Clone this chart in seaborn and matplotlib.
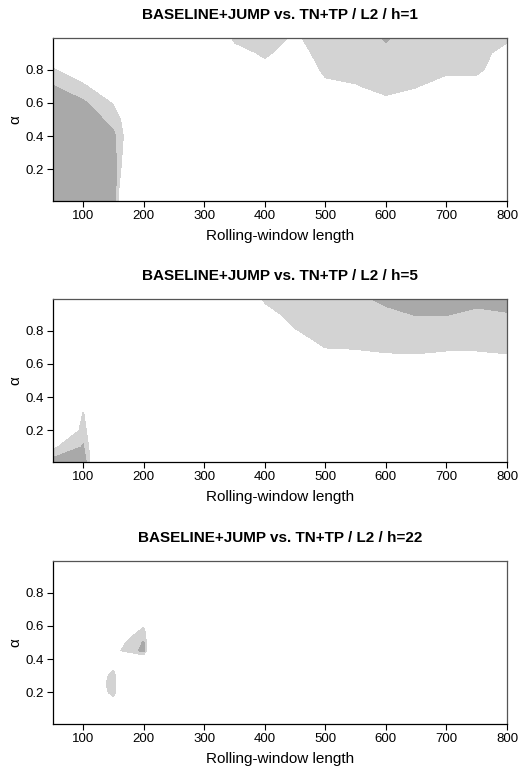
import numpy as np
import matplotlib
matplotlib.use("Agg")
import matplotlib.pyplot as plt
import seaborn as sns

sns.set_style("white")
plt.rcParams['font.family'] = ['Liberation Sans', 'DejaVu Sans']
plt.rcParams['text.color'] = 'black'
plt.rcParams['axes.labelcolor'] = 'black'
plt.rcParams['xtick.color'] = 'black'
plt.rcParams['ytick.color'] = 'black'

# grid of rolling-window lengths and alpha values
WINDOWS = [50, 100, 150, 200, 250, 300, 350, 400, 450, 500, 550, 600, 650, 700, 750, 800]
ALPHA = [0.01, 0.1, 0.2, 0.3, 0.4, 0.5, 0.6, 0.7, 0.8, 0.9, 0.99]
ALPHA_H22 = [0.01, 0.1, 0.15, 0.2, 0.25, 0.3, 0.35, 0.4, 0.45, 0.5, 0.55, 0.6, 0.7, 0.8, 0.9, 0.99]

# significance statistic per (alpha row, window column); >=1 light, >=2 dark
STAT_H1 = [
    [3.0, 3.0, 3.0, -9.5, 0, 0, 0, 0, 0, 0, 0, 0, 0, 0, 0, 0],
    [3.0, 3.0, 2.8, -7.0, 0, 0, 0, 0, 0, 0, 0, 0, 0, 0, 0, 0],
    [3.0, 3.0, 2.6, -4.0, 0, 0, 0, 0, 0, 0, 0, 0, 0, 0, 0, 0],
    [3.0, 3.0, 2.4, -2.5, 0, 0, 0, 0, 0, 0, 0, 0, 0, 0, 0, 0],
    [3.0, 3.0, 2.25, -1.6, 0, 0, 0, 0, 0, 0, 0, 0, 0, 0, 0, 0],
    [3.0, 2.8, 1.6, -1.0, 0, 0, 0, 0, 0, 0, 0, 0, 0, 0, 0, 0],
    [2.5, 2.2, 0.9, -1.0, 0, 0, 0, 0, 0, 0, 0.4, 0.6, 0.5, 0.2, 0.2, 0],
    [2.05, 1.1, 0.4, -1.0, 0, 0, 0, 0, 0, 0.5, 0.9, 1.5, 1.05, 0.6, 0.6, 0.2],
    [1.05, 0.5, 0.2, -1.0, 0, 0, 0, 0.5, -1.0, 1.5, 1.6, 1.7, 1.6, 1.2, 1.2, 0.4],
    [0.3, 0.2, 0.1, -1.0, 0, 0, 0.4, 1.25, 0.24, 1.7, 1.6, 1.8, 1.6, 1.5, 1.4, 0.6],
    [0.0, 0.0, 0.0, -1.0, 0, -1.7, 1.3, 1.6, 0.79, 1.75, 1.4, 2.1, 1.4, 1.5, 1.5, 1.2],
]

STAT_H5 = [
    [2.5, 2.8, -5.4, 0, 0, 0, 0, 0, 0, 0, 0, 0, 0, 0, 0, 0],
    [0.8, 2.1, -4.0, 0, 0, 0, 0, 0, 0, 0, 0, 0, 0, 0, 0, 0],
    [-2.7, 1.6, -4.4, 0, 0, 0, 0, 0, 0, 0, 0, 0, 0, 0, 0, 0],
    [-2.7, 1.1, -4.0, 0, 0, 0, 0, 0, 0, 0, 0, 0, 0, 0, 0, 0],
    [0, 0, -2.0, 0, 0, 0, 0, 0, 0, 0, 0, 0, 0, 0, 0, 0],
    [0, 0, 0, 0, 0, 0, 0, 0, 0, 0, 0, 0, 0, 0, 0, 0],
    [0, 0, 0, 0, 0, 0, 0, 0, 0, 0.3, 0.3, 0.4, 0.4, 0.3, 0.3, 0.4],
    [0, 0, 0, 0, 0, 0, 0, 0, 0.3, 1.03, 1.1, 1.3, 1.4, 1.2, 1.2, 1.4],
    [0, 0, 0, 0, 0, 0, 0, 0.2, 0.95, 1.4, 1.5, 1.6, 1.6, 1.55, 1.5, 1.6],
    [0, 0, 0, 0, 0, 0, 0, 0.5, 1.5, 1.6, 1.6, 1.8, 2.05, 2.05, 1.8, 1.95],
    [0, 0, 0, 0, 0, 0, -0.8, 1.2, 1.6, 1.7, 1.78, 2.2, 2.4, 2.4, 2.3, 2.4],
]

STAT_H22 = [
    [0, 0, 0, 0, 0, 0, 0, 0, 0, 0, 0, 0, 0, 0, 0, 0],          # 0.01
    [0, 0, 0, 0, 0, 0, 0, 0, 0, 0, 0, 0, 0, 0, 0, 0],          # 0.10
    [0, 0, 0.7, 0, 0, 0, 0, 0, 0, 0, 0, 0, 0, 0, 0, 0],        # 0.15
    [0, -0.37, 1.3, -3.7, 0, 0, 0, 0, 0, 0, 0, 0, 0, 0, 0, 0],  # 0.20
    [0, -0.27, 1.4, -3.6, 0, 0, 0, 0, 0, 0, 0, 0, 0, 0, 0, 0],  # 0.25
    [0, 0.09, 1.2, -1.66, 0, 0, 0, 0, 0, 0, 0, 0, 0, 0, 0, 0],  # 0.30
    [0, 0, 0.9, -1.0, 0, 0, 0, 0, 0, 0, 0, 0, 0, 0, 0, 0],     # 0.35
    [0, 0, 0.3, -0.3, 0, 0, 0, 0, 0, 0, 0, 0, 0, 0, 0, 0],     # 0.40
    [0, 0, 0.59, 2.3, -14.0, 0, 0, 0, 0, 0, 0, 0, 0, 0, 0, 0], # 0.45
    [0, 0, 0.27, 2.1, -11.6, 0, 0, 0, 0, 0, 0, 0, 0, 0, 0, 0], # 0.50
    [0, 0, -0.17, 1.5, -6.8, 0, 0, 0, 0, 0, 0, 0, 0, 0, 0, 0], # 0.55
    [0, 0, 0, 0.9, 0, 0, 0, 0, 0, 0, 0, 0, 0, 0, 0, 0],        # 0.60
    [0, 0, 0, 0, 0, 0, 0, 0, 0, 0, 0, 0, 0, 0, 0, 0],          # 0.70
    [0, 0, 0, 0, 0, 0, 0, 0, 0, 0, 0, 0, 0, 0, 0, 0],          # 0.80
    [0, 0, 0, 0, 0, 0, 0, 0, 0, 0, 0, 0, 0, 0, 0, 0],          # 0.90
    [0, 0, 0, 0, 0, 0, 0, 0, 0, 0, 0, 0, 0, 0, 0, 0],          # 0.99
]

TITLES = ["BASELINE+JUMP vs. TN+TP / L2 / h=1",
          "BASELINE+JUMP vs. TN+TP / L2 / h=5",
          "BASELINE+JUMP vs. TN+TP / L2 / h=22"]
PANELS = [(ALPHA, STAT_H1), (ALPHA, STAT_H5), (ALPHA_H22, STAT_H22)]
X_TICKS = [100, 200, 300, 400, 500, 600, 700, 800]
Y_TICKS = [0.2, 0.4, 0.6, 0.8]
LEVELS = [1.0, 2.0, 1000.0]
FILL_COLORS = ["#d3d3d3", "#a9a9a9"]

W, H = 520, 771
fig = plt.figure(figsize=(W / 100, H / 100), dpi=100)
fig.patch.set_facecolor("white")

ax_left, ax_right = 53, 507
tops = [38, 299, 561]
ax_h = 163

for i, ((alphas, stat), title) in enumerate(zip(PANELS, TITLES)):
    top = tops[i]
    ax = fig.add_axes([ax_left / W, 1 - (top + ax_h) / H, (ax_right - ax_left) / W, ax_h / H])
    ax.set_facecolor("white")
    ax.contourf(WINDOWS, alphas, np.array(stat, dtype=float), levels=LEVELS,
                colors=FILL_COLORS, antialiased=False)
    ax.set_xlim(WINDOWS[0], WINDOWS[-1])
    ax.set_ylim(ALPHA[0], ALPHA[-1])
    ax.set_xticks(X_TICKS)
    ax.set_xticklabels([str(t) for t in X_TICKS])
    ax.set_yticks(Y_TICKS)
    ax.set_yticklabels([f"{t:.1f}" for t in Y_TICKS])
    ax.tick_params(axis="both", which="major", direction="out", length=4, width=0.8,
                   color="black", labelcolor="black", labelsize=9.5, pad=2.5,
                   left=True, bottom=True, top=False, right=False)
    for side in ["top", "right"]:
        ax.spines[side].set_color("#555555")
        ax.spines[side].set_linewidth(0.9)
    for side in ["left", "bottom"]:
        ax.spines[side].set_color("black")
        ax.spines[side].set_linewidth(0.9)
    ax.set_xlabel("Rolling-window length", fontsize=11, color="black")
    ax.xaxis.set_label_coords(0.5, -35 / ax_h)
    ax.xaxis.label.set_va("center")
    ax.set_ylabel("α", fontsize=11, color="black")
    ax.yaxis.set_label_coords(-38 / (ax_right - ax_left), 0.5)
    ax.yaxis.label.set_va("center")
    ax.set_title(title, fontsize=11, fontweight="bold", color="black",
                 y=1 + 23 / ax_h, va="center", pad=0)

fig.savefig("out.png", dpi=100, facecolor="white")
